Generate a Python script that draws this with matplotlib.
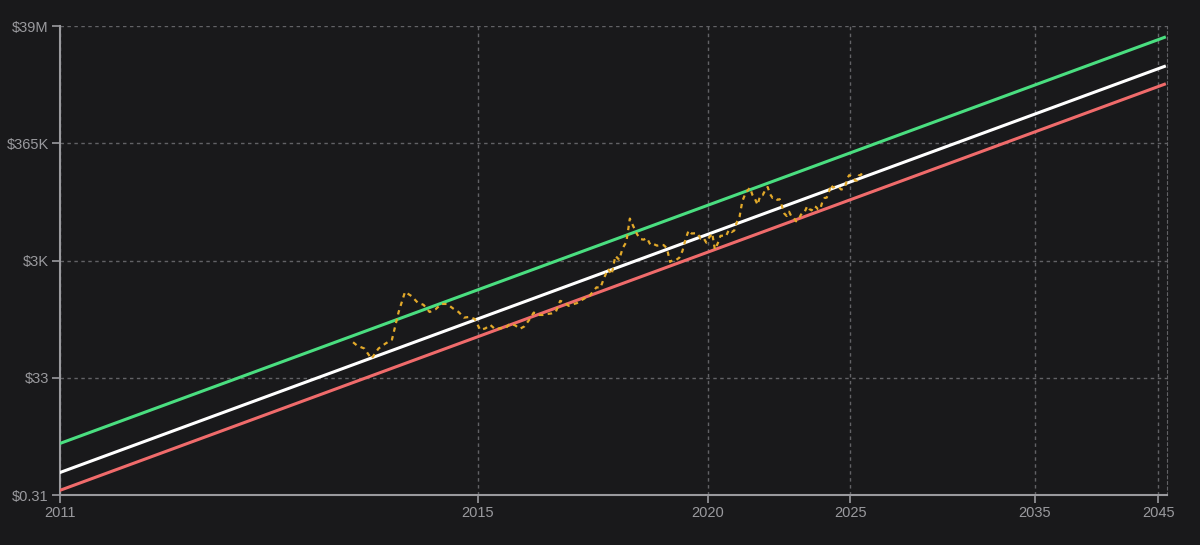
import numpy as np
import pandas as pd
import matplotlib
matplotlib.use("Agg")
import matplotlib.pyplot as plt

plt.rcParams['font.family'] = ['Liberation Sans', 'DejaVu Sans']

genesis = pd.Timestamp("2009-01-03")

# monthly BTC price (USD), first point 2013-04-28 then mid-month
price_dates = ["2013-04-28"] + [d.strftime("%Y-%m-15") for d in pd.date_range("2013-05-01", "2025-07-01", freq="MS")]
prices = [
    135, 118, 105, 70, 105, 128, 150, 450, 1000,
    850, 650, 600, 450, 500, 620, 620, 520, 450, 360, 370, 340,
    220, 235, 270, 225, 237, 235, 285, 265, 230, 255, 330, 440,
    400, 400, 415, 425, 455, 700, 660, 575, 610, 640, 710, 780,
    830, 1010, 1200, 1180, 1750, 2500, 2000, 4200, 3600, 5700, 7300, 18500,
    13500, 10000, 8200, 8000, 8500, 6500, 6700, 6300, 6500, 6450, 5700, 3300,
    3600, 3600, 3900, 5100, 8000, 11500, 10200, 10300, 10300, 8300, 8600, 7100,
    8800, 10300, 5400, 6900, 9300, 9400, 9200, 11800, 10800, 11500, 16300, 20000,
    36700, 47800, 56000, 63000, 47000, 40000, 32000, 46000, 47000, 57000, 65000, 49000,
    42000, 42500, 39000, 40000, 30000, 22500, 20500, 24300, 20000, 19200, 16600, 17400,
    21000, 24300, 24700, 30300, 27000, 25600, 30300, 29300, 26600, 27000, 36500, 42000,
    42600, 51800, 71000, 63500, 66000, 66000, 64000, 58800, 60000, 66000, 90000, 104000,
    100000, 97500, 84000, 84000, 103000, 105000, 118000,
]

# power law fit: log10(price) = a + b * log10(years since genesis)
slope = 5.55
fair_intercept = -1.782
upper_intercept = -1.28
lower_intercept = -2.09

tick_years = [2011, 2015, 2020, 2025, 2035, 2045]
ytick_labels = ["$0.31", "$33", "$3K", "$365K", "$39M"]
ymin, ymax = 0.31, 39e6


def years_since(d):
    return (pd.Timestamp(d) - genesis).days / 365.25


t_price = np.array([years_since(d) for d in price_dates])
t_lines = np.logspace(np.log10(years_since("2011-01-01")), np.log10(36.6), 50)

bg = "#19191b"
fig = plt.figure(figsize=(12, 5.45), dpi=100, facecolor=bg)
ax = fig.add_axes([0.05, 0.0917, 0.9225, 0.8603], facecolor=bg)
ax.set_xscale("log")
ax.set_yscale("log")

ax.plot(t_lines, 10 ** (upper_intercept + slope * np.log10(t_lines)), color="#4ade80", lw=2.2, zorder=3)
ax.plot(t_lines, 10 ** (fair_intercept + slope * np.log10(t_lines)), color="#ffffff", lw=2.2, zorder=3)
ax.plot(t_lines, 10 ** (lower_intercept + slope * np.log10(t_lines)), color="#f06b6b", lw=2.2, zorder=3)
ax.plot(t_price, prices, color="#e2a92a", lw=1.6, dashes=(2, 2), zorder=4)

ax.set_xlim(years_since("2011-01-01"), 36.85)
ax.set_ylim(ymin, ymax)

xt = [years_since(f"{y}-01-01") for y in tick_years]
ax.set_xticks(xt)
ax.set_xticklabels([str(y) for y in tick_years])
ax.xaxis.set_minor_locator(matplotlib.ticker.NullLocator())
yt = np.logspace(np.log10(ymin), np.log10(ymax), 5)
ax.set_yticks(yt)
ax.set_yticklabels(ytick_labels)
ax.yaxis.set_minor_locator(matplotlib.ticker.NullLocator())

ax.grid(True, color="#626266", lw=1, linestyle=(0, (2.5, 2.5)))
ax.tick_params(colors="#9a9a9e", labelcolor="#9a9a9e", labelsize=10.5, length=6, width=1.2, pad=2)
for s in ["left", "bottom"]:
    ax.spines[s].set_color("#9a9a9e")
    ax.spines[s].set_linewidth(1.5)
ax.spines["top"].set_visible(False)
ax.spines["right"].set_color("#626266")
ax.spines["right"].set_linestyle((0, (2.5, 2.5)))

fig.savefig("out.png", facecolor=bg)
